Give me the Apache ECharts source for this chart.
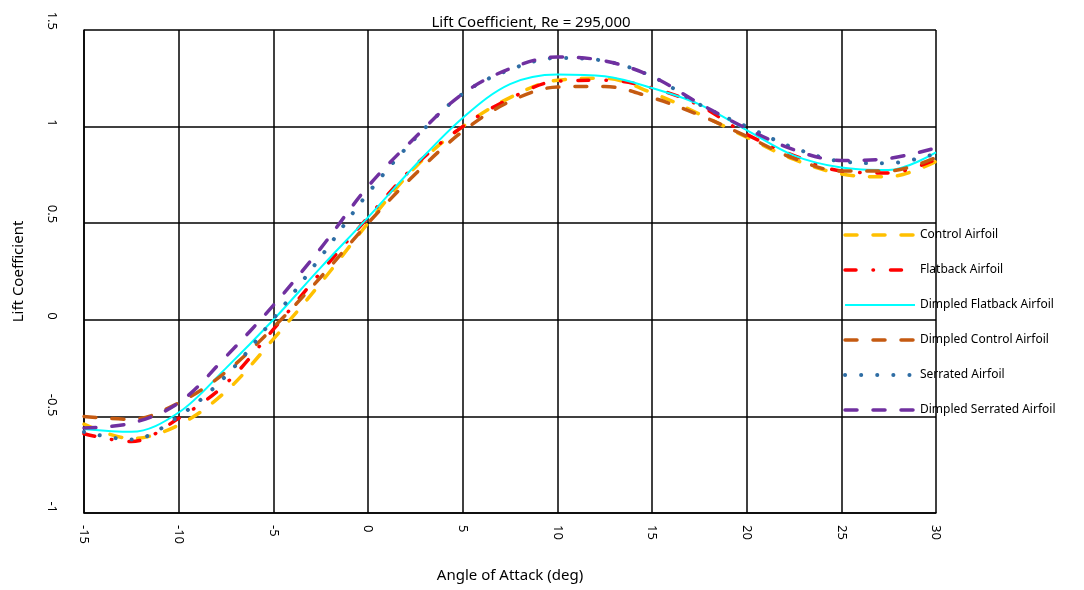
<!DOCTYPE html>
<html>
<head>
<meta charset="utf-8">
<script src="https://cdn.jsdelivr.net/npm/echarts@6/dist/echarts.min.js"></script>
<style>html,body{margin:0;padding:0;background:#fff}#c{width:1084px;height:590px}</style>
</head>
<body>
<div id="c"></div>
<script>
const angles = [-15, -12.5, -10, -7.5, -5, -2.5, 0, 2.5, 5, 7.5, 10, 12.5, 15, 17.5, 20, 22.5, 25, 27.5, 30];
const controlAirfoil        = [-0.54, -0.615, -0.545, -0.37, -0.10, 0.19, 0.50, 0.79, 1.00, 1.15, 1.24, 1.25, 1.175, 1.065, 0.945, 0.83, 0.755, 0.74, 0.82];
const flatbackAirfoil       = [-0.59, -0.63, -0.51, -0.33, -0.05, 0.245, 0.53, 0.80, 1.00, 1.145, 1.235, 1.24, 1.20, 1.11, 0.96, 0.85, 0.77, 0.76, 0.83];
const dimpledFlatback       = [-0.565, -0.58, -0.48, -0.25, 0.00, 0.27, 0.53, 0.80, 1.045, 1.22, 1.27, 1.26, 1.20, 1.115, 0.982, 0.85, 0.788, 0.775, 0.866];
const dimpledControl        = [-0.50, -0.515, -0.43, -0.27, -0.04, 0.22, 0.50, 0.755, 0.975, 1.13, 1.205, 1.208, 1.15, 1.06, 0.95, 0.835, 0.77, 0.77, 0.84];
const serratedAirfoil       = [-0.58, -0.62, -0.50, -0.29, 0.005, 0.325, 0.655, 0.94, 1.17, 1.295, 1.355, 1.34, 1.26, 1.115, 1.00, 0.89, 0.82, 0.81, 0.86];
const dimpledSerrated       = [-0.56, -0.535, -0.43, -0.19, 0.075, 0.37, 0.69, 0.945, 1.17, 1.30, 1.36, 1.34, 1.26, 1.12, 0.99, 0.88, 0.825, 0.835, 0.89];
const seriesNames = ['Control Airfoil', 'Flatback Airfoil', 'Dimpled Flatback Airfoil', 'Dimpled Control Airfoil', 'Serrated Airfoil', 'Dimpled Serrated Airfoil'];
const xTicks = { min: -15, max: 30, interval: 5 };
const yTicks = { min: -1, max: 1.5, interval: 0.5 };

const FONT = 'Noto Sans';
function pairs(vals) { return angles.map((a, i) => [a, vals[i]]); }
const styles = [
  { color: '#FFC000', width: 3.5, type: [12, 16], cap: 'round' },
  { color: '#FF0000', width: 3.5, type: [11, 17, 0.5, 17], cap: 'round' },
  { color: '#00FFFF', width: 2, type: 'solid', cap: 'butt' },
  { color: '#C55A11', width: 3.5, type: [12, 16], cap: 'round' },
  { color: '#2E6DA4', width: 4, type: [0.1, 16], cap: 'round' },
  { color: '#7030A0', width: 3.5, type: [12, 16], cap: 'round' }
];
const allData = [controlAirfoil, flatbackAirfoil, dimpledFlatback, dimpledControl, serratedAirfoil, dimpledSerrated];

const chart = echarts.init(document.getElementById('c'), null, { renderer: 'canvas' });
chart.setOption({
  animation: false,
  backgroundColor: '#fff',
  title: {
    text: 'Lift Coefficient, Re = 295,000',
    left: 526, top: 10, textAlign: 'center',
    textStyle: { fontFamily: FONT, fontSize: 15, fontWeight: 'normal', color: '#000' }
  },
  grid: { left: 84, right: 148, top: 30, bottom: 77 },
  legend: {
    orient: 'vertical', left: 843, top: 229, padding: 0,
    itemWidth: 70, itemHeight: 14, itemGap: 23,
    itemStyle: { opacity: 0 },
    textStyle: { fontFamily: FONT, fontSize: 12, color: '#000' },
    data: seriesNames.map((n, i) => ({
      name: n,
      lineStyle: { width: styles[i].width, type: styles[i].type, cap: styles[i].cap, color: styles[i].color }
    }))
  },
  xAxis: {
    type: 'value', min: xTicks.min, max: xTicks.max, interval: xTicks.interval,
    name: 'Angle of Attack (deg)', nameLocation: 'middle', nameGap: 55,
    nameTextStyle: { fontFamily: FONT, fontSize: 15, color: '#000' },
    axisLine: { show: true, onZero: false, lineStyle: { color: '#000', width: 1.5 } },
    axisTick: { show: false },
    axisLabel: { rotate: -90, margin: 12, align: 'left', verticalAlign: 'middle', fontFamily: FONT, fontSize: 13, color: '#000' },
    splitLine: { show: true, lineStyle: { color: '#000', width: 1.5 } }
  },
  yAxis: {
    type: 'value', min: yTicks.min, max: yTicks.max, interval: yTicks.interval,
    name: 'Lift Coefficient', nameLocation: 'middle', nameGap: 58,
    nameTextStyle: { fontFamily: FONT, fontSize: 15, color: '#000' },
    axisLine: { show: true, onZero: false, lineStyle: { color: '#000', width: 1.5 } },
    axisTick: { show: false },
    axisLabel: { rotate: -90, margin: 32, align: 'right', verticalAlign: 'middle', fontFamily: FONT, fontSize: 13, color: '#000' },
    splitLine: { show: true, lineStyle: { color: '#000', width: 1.5 } }
  },
  series: seriesNames.map((n, i) => ({
    name: n, type: 'line', data: pairs(allData[i]), smooth: 0.35,
    symbol: 'none', showSymbol: false,
    itemStyle: { color: styles[i].color },
    lineStyle: { color: styles[i].color, width: styles[i].width, type: styles[i].type, cap: styles[i].cap }
  }))
});
</script>
</body>
</html>
